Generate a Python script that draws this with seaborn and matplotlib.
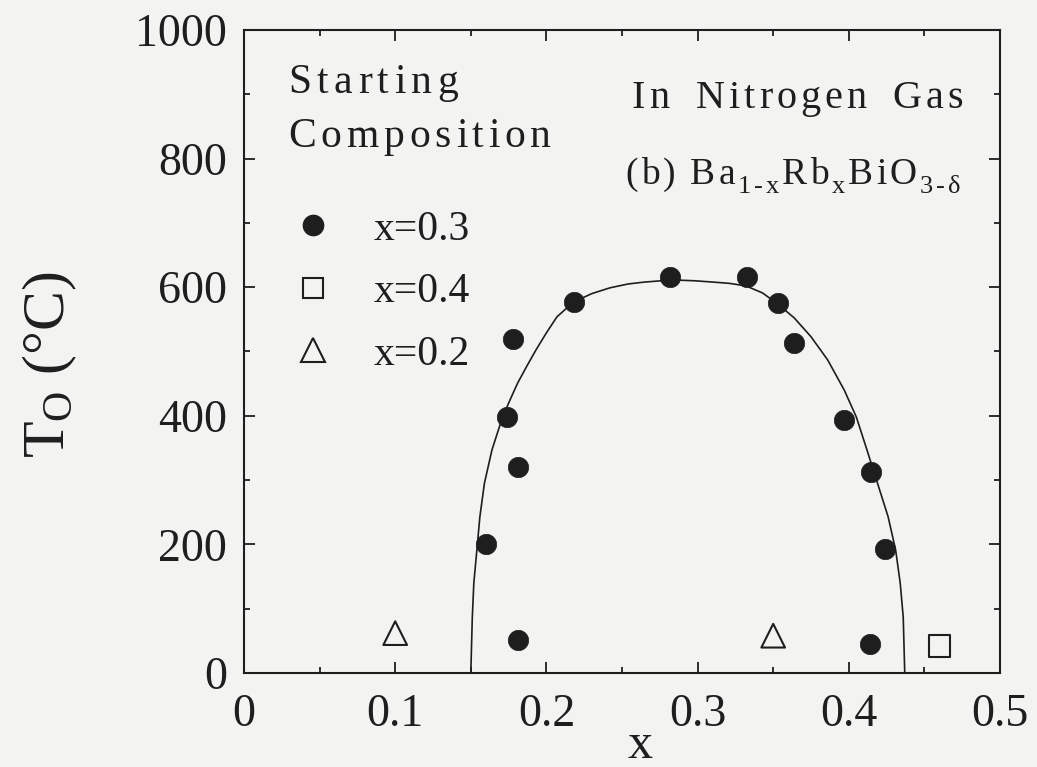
import matplotlib
matplotlib.use("Agg")
import matplotlib.pyplot as plt
import seaborn as sns
from matplotlib.lines import Line2D
from matplotlib.ticker import FixedLocator, MultipleLocator
from matplotlib.font_manager import FontProperties
from matplotlib.transforms import offset_copy

# ---- data -------------------------------------------------------------
# phase boundary drawn as the solid curve (x, T in deg C)
boundary_x = [0.150, 0.151, 0.152, 0.154, 0.156, 0.159, 0.164, 0.171, 0.176,
              0.181, 0.187, 0.193, 0.200, 0.207, 0.218, 0.230, 0.242, 0.254,
              0.265, 0.276, 0.287, 0.298, 0.310, 0.321, 0.332, 0.343, 0.354,
              0.364, 0.375, 0.386, 0.397, 0.405, 0.412, 0.419, 0.426, 0.431,
              0.434, 0.436, 0.437]
boundary_T = [0, 87, 140, 191, 243, 295, 347, 398, 425,
              451, 477, 502, 529, 554, 577, 590, 599, 605,
              608, 610, 611, 610, 608, 606, 602, 591, 572,
              552, 523, 487, 440, 398, 347, 295, 243, 191,
              140, 87, 0]

# onset temperatures grouped by starting composition
x_start03 = [0.160, 0.174, 0.181, 0.178, 0.181, 0.218, 0.282, 0.333,
             0.353, 0.364, 0.397, 0.415, 0.424, 0.414]
T_start03 = [200, 398, 320, 519, 51, 577, 616, 616,
             575, 513, 393, 313, 193, 45]
x_start04 = [0.460]
T_start04 = [42]
x_start02 = [0.100, 0.350]
T_start02 = [62, 58]

legend_labels = ["x=0.3", "x=0.4", "x=0.2"]
x_ticks = [0, 0.1, 0.2, 0.3, 0.4, 0.5]
x_tick_labels = ["0", "0.1", "0.2", "0.3", "0.4", "0.5"]
y_ticks = [0, 200, 400, 600, 800, 1000]

# ---- style ------------------------------------------------------------
INK = "#1e1e1e"
PAPER = "#f3f3f2"
SERIF = "Liberation Serif"

sns.set_style("ticks")
plt.rcParams["font.family"] = [SERIF, "DejaVu Serif"]
plt.rcParams["mathtext.fontset"] = "custom"
plt.rcParams["mathtext.rm"] = SERIF
plt.rcParams["mathtext.it"] = SERIF + ":italic"

fig = plt.figure(figsize=(10.37, 7.67), dpi=100, facecolor=PAPER)
ax = fig.add_axes([244 / 1037, 94 / 767, 756 / 1037, 643 / 767])
ax.set_facecolor(PAPER)

# ---- marks ------------------------------------------------------------
sns.lineplot(x=boundary_x, y=boundary_T, sort=False, estimator=None,
             color=INK, linewidth=1.2, ax=ax)

sns.scatterplot(x=x_start03, y=T_start03, marker="o", s=215,
                color=INK, edgecolor=INK, linewidth=0.5, ax=ax)
sns.scatterplot(x=x_start04, y=T_start04, marker="s", s=235, ax=ax)
sq = ax.collections[-1]
sq.set_facecolor("none"); sq.set_edgecolor(INK); sq.set_linewidth(1.5)
sns.scatterplot(x=x_start02, y=T_start02, marker="^", s=290, ax=ax)
tri = ax.collections[-1]
tri.set_facecolor("none"); tri.set_edgecolor(INK); tri.set_linewidth(1.5)

# ---- axes -------------------------------------------------------------
ax.set_xlim(0, 0.5)
ax.set_ylim(0, 1000)
ax.xaxis.set_major_locator(FixedLocator(x_ticks))
ax.set_xticklabels(x_tick_labels)
ax.yaxis.set_major_locator(FixedLocator(y_ticks))
ax.set_yticklabels([str(v) for v in y_ticks])
ax.xaxis.set_minor_locator(MultipleLocator(0.05))
ax.yaxis.set_minor_locator(MultipleLocator(100))
ax.tick_params(which="both", direction="in", top=True, right=True,
               color=INK, width=1.3, labelsize=33, labelcolor=INK)
ax.tick_params(axis="y", pad=12)
ax.tick_params(axis="x", pad=15)
ax.tick_params(which="major", length=8)
ax.tick_params(which="minor", length=4)
for sp in ax.spines.values():
    sp.set_linewidth(1.5)
    sp.set_color(INK)
    sp.set_visible(True)

ax.set_xlabel("x", fontsize=36, color=INK, va="baseline")
ax.xaxis.set_label_coords(0.524, -0.132)
ax.set_ylabel(r"$\mathrm{T}_{\mathrm{O}}$ (°C)", fontsize=43, color=INK)
ax.yaxis.set_label_coords(-0.218, 0.48)

# ---- legend -----------------------------------------------------------
handles = [
    Line2D([], [], linestyle="none", marker="o", markersize=14.6,
           markerfacecolor=INK, markeredgecolor=INK),
    Line2D([], [], linestyle="none", marker="s", markersize=14.3,
           markerfacecolor="none", markeredgecolor=INK, markeredgewidth=1.5),
    Line2D([], [], linestyle="none", marker="^", markersize=17.0,
           markerfacecolor="none", markeredgecolor=INK, markeredgewidth=1.5),
]
ax.legend(handles=handles, labels=legend_labels, loc="upper left",
          bbox_to_anchor=(0.037, 0.72), frameon=False, fontsize=30,
          borderpad=0, borderaxespad=0, handlelength=1.95,
          handletextpad=0.5, labelspacing=0.58, labelcolor=INK)


# ---- letter-spaced annotations -----------------------------------------
def draw_tracked(ax, x, y, runs, tracking, space_extra=0.0):
    """Draw runs of (text, size, baseline shift px) glyph by glyph with extra spacing."""
    fig = ax.figure
    renderer = fig.canvas.get_renderer()

    def advance(ch, prop):
        w1, _, _ = renderer.get_text_width_height_descent("x" + ch + "x", prop, ismath=False)
        w0, _, _ = renderer.get_text_width_height_descent("xx", prop, ismath=False)
        return w1 - w0

    dx = 0.0
    for text, size, dy in runs:
        prop = FontProperties(family=SERIF, size=size)
        for ch in text:
            if ch != " ":
                ax.text(x, y, ch, fontproperties=prop, color=INK,
                        ha="left", va="baseline",
                        transform=offset_copy(ax.transAxes, fig=fig, x=dx, y=dy, units="dots"))
            dx += advance(ch, prop) + tracking
            if ch == " ":
                dx += space_extra


draw_tracked(ax, 0.0582, 0.902, [("Starting", 30, 0)], tracking=5.5)
draw_tracked(ax, 0.0582, 0.818, [("Composition", 30, 0)], tracking=4.8)
draw_tracked(ax, 0.513, 0.8787, [("In Nitrogen Gas", 29, 0)], tracking=4.0, space_extra=8)
draw_tracked(ax, 0.504, 0.7605,
             [("(b) Ba", 27, 0), ("1-x", 19, -9), ("Rb", 27, 0), ("x", 19, -9),
              ("BiO", 27, 0), ("3-δ", 19, -9)], tracking=3.0)

fig.savefig("out.png", dpi=100, facecolor=PAPER)
